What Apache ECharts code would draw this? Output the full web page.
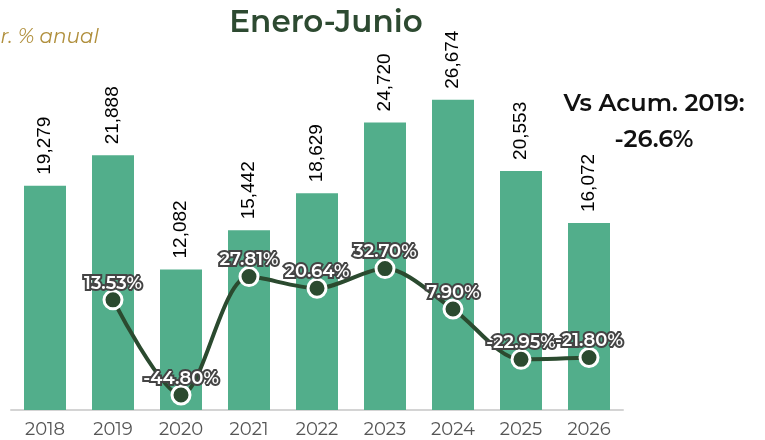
<!DOCTYPE html>
<html>
<head>
<meta charset="utf-8">
<script src="https://cdn.jsdelivr.net/npm/echarts@6/dist/echarts.min.js"></script>
<style>
  html, body { margin: 0; padding: 0; background: #fff; }
  #chart { width: 765px; height: 440px; }
</style>
</head>
<body>
<div id="chart"></div>
<script>
const years = ['2018', '2019', '2020', '2021', '2022', '2023', '2024', '2025', '2026'];
const totals = [19279, 21888, 12082, 15442, 18629, 24720, 26674, 20553, 16072];
const growth = ['-', 13.53, -44.80, 27.81, 20.64, 32.70, 7.90, -22.95, -21.80];

const font = 'Montserrat, "Noto Sans", sans-serif';

let chart = echarts.init(document.getElementById('chart'));
chart.setOption({
  animation: false,
  textStyle: { fontFamily: font },
  title: {
    text: 'Enero-Junio',
    left: 321,
    top: 2,
    textAlign: 'center',
    textStyle: { color: '#2d4a31', fontSize: 31, fontWeight: 600, fontFamily: font }
  },
  graphic: [
    {
      type: 'text', x: -26, y: 27,
      style: { text: 'Var. % anual', fill: '#b08f3c', font: 'italic 20px ' + font }
    },
    {
      type: 'text', x: 654, y: 104,
      style: { text: 'Vs Acum. 2019:', fill: '#111', font: '600 24px ' + font, align: 'center', verticalAlign: 'middle' }
    },
    {
      type: 'text', x: 654, y: 140,
      style: { text: '-26.6%', fill: '#111', font: '600 24px ' + font, align: 'center', verticalAlign: 'middle' }
    }
  ],
  grid: { left: 11, right: 142, top: 61, bottom: 30 },
  xAxis: {
    type: 'category',
    data: years,
    axisTick: { show: false },
    axisLine: { lineStyle: { color: '#d4d4d4', width: 2 } },
    axisLabel: { color: '#555', fontSize: 18, margin: 11 }
  },
  yAxis: [
    { type: 'value', min: 0, max: 30000, show: false, splitLine: { show: false } },
    { type: 'value', min: -54, max: 160, show: false, splitLine: { show: false } }
  ],
  series: [
    {
      type: 'bar',
      data: totals,
      barWidth: 42,
      itemStyle: { color: '#52ae8b' },
      label: {
        show: true,
        position: 'top',
        rotate: 90,
        align: 'left',
        verticalAlign: 'middle',
        distance: 11,
        color: '#000',
        fontSize: 19,
        fontFamily: '"Liberation Sans", Arial, sans-serif',
        formatter: p => p.value.toLocaleString('en-US')
      }
    },
    {
      type: 'line',
      yAxisIndex: 1,
      data: growth,
      smooth: 0.3,
      symbol: 'circle',
      symbolSize: 18,
      lineStyle: { color: '#2b4a2f', width: 4 },
      itemStyle: { color: '#2b4a2f', borderColor: '#fff', borderWidth: 3 },
      label: {
        show: true,
        position: 'top',
        distance: -3,
        color: '#fff',
        fontSize: 18,
        fontWeight: 600,
        textBorderColor: '#444',
        textBorderWidth: 4,
        formatter: p => p.value.toFixed(2) + '%'
      }
    }
  ]
});
</script>
</body>
</html>
